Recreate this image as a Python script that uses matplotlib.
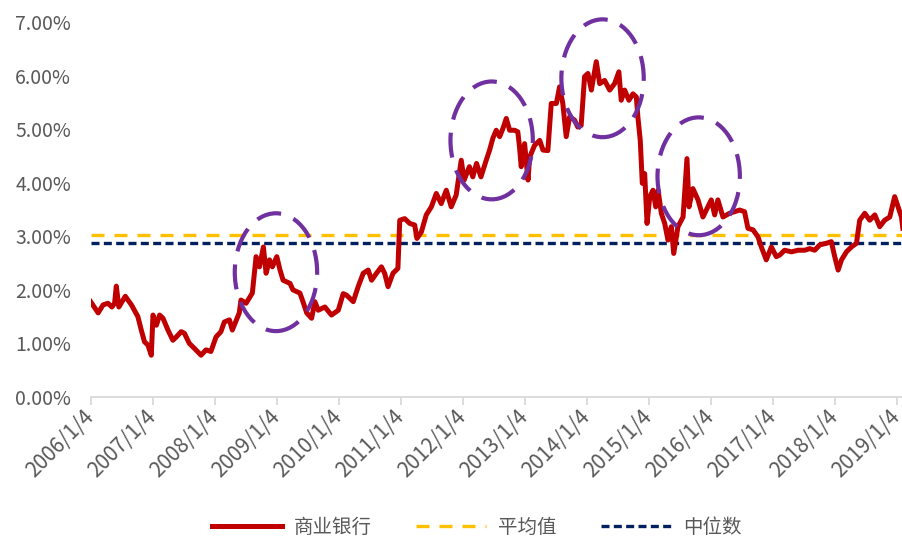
import matplotlib
matplotlib.use("Agg")
import matplotlib.pyplot as plt
import matplotlib.dates as mdates
from matplotlib.patches import Ellipse
from matplotlib.ticker import FuncFormatter
from matplotlib.lines import Line2D
import pandas as pd

plt.rcParams['font.family'] = ['Noto Sans CJK SC', 'DejaVu Sans']

# 商业银行 股息率 (%)
dates = [
    "2006-01-04", "2006-02-17", "2006-03-18", "2006-04-16", "2006-05-09", "2006-05-25",
    "2006-06-04", "2006-06-19", "2006-07-27", "2006-09-01", "2006-10-09", "2006-10-29",
    "2006-11-17", "2006-12-07", "2006-12-27", "2007-01-06", "2007-01-26", "2007-02-14",
    "2007-03-06", "2007-04-04", "2007-05-03", "2007-05-23", "2007-06-21", "2007-07-10",
    "2007-08-08", "2007-09-06", "2007-10-16", "2007-11-14", "2007-12-13", "2008-01-12",
    "2008-02-10", "2008-03-01", "2008-03-31", "2008-04-17", "2008-05-28", "2008-06-07",
    "2008-07-07", "2008-08-13", "2008-09-04", "2008-09-24", "2008-10-17", "2008-11-02",
    "2008-11-22", "2008-12-09", "2009-01-04", "2009-01-23", "2009-02-10", "2009-03-23",
    "2009-04-09", "2009-05-20", "2009-06-07", "2009-06-29", "2009-07-28", "2009-08-16",
    "2009-09-05", "2009-10-14", "2009-11-22", "2010-01-01", "2010-01-30", "2010-02-19",
    "2010-03-30", "2010-04-28", "2010-05-28", "2010-06-26", "2010-07-16", "2010-08-14",
    "2010-09-12", "2010-10-01", "2010-10-21", "2010-11-19", "2010-12-18", "2010-12-29",
    "2011-01-27", "2011-02-26", "2011-03-27", "2011-04-09", "2011-05-05", "2011-06-03",
    "2011-07-03", "2011-08-01", "2011-08-30", "2011-09-29", "2011-10-28", "2011-11-26",
    "2011-12-26", "2012-01-12", "2012-02-12", "2012-03-03", "2012-03-25", "2012-04-20",
    "2012-05-21", "2012-06-10", "2012-06-29", "2012-07-19", "2012-08-08", "2012-08-27",
    "2012-09-16", "2012-10-06", "2012-11-04", "2012-11-23", "2012-12-03", "2012-12-13",
    "2013-01-02", "2013-01-22", "2013-02-01", "2013-03-02", "2013-04-01", "2013-04-20",
    "2013-05-19", "2013-06-08", "2013-07-08", "2013-07-27", "2013-08-15", "2013-09-04",
    "2013-09-24", "2013-10-23", "2013-11-11", "2013-12-01", "2013-12-21", "2014-01-10",
    "2014-01-30", "2014-02-28", "2014-03-20", "2014-04-18", "2014-05-18", "2014-06-16",
    "2014-07-11", "2014-07-25", "2014-08-14", "2014-09-08", "2014-10-02", "2014-10-22",
    "2014-10-31", "2014-11-14", "2014-11-26", "2014-12-10", "2014-12-24", "2015-01-09",
    "2015-01-28", "2015-02-13", "2015-02-27", "2015-03-18", "2015-04-07", "2015-04-26",
    "2015-05-16", "2015-05-30", "2015-06-24", "2015-07-24", "2015-08-16", "2015-08-28",
    "2015-09-20", "2015-10-20", "2015-11-18", "2015-12-17", "2016-01-06", "2016-01-26",
    "2016-02-14", "2016-03-15", "2016-04-23", "2016-05-23", "2016-06-21", "2016-07-20",
    "2016-08-09", "2016-09-08", "2016-10-07", "2016-10-27", "2016-11-25", "2016-12-25",
    "2017-01-23", "2017-02-12", "2017-03-13", "2017-04-22", "2017-05-31", "2017-07-09",
    "2017-08-08", "2017-09-06", "2017-10-06", "2017-11-14", "2017-12-13", "2018-01-02",
    "2018-01-22", "2018-02-11", "2018-03-12", "2018-04-10", "2018-05-10", "2018-05-29",
    "2018-06-28", "2018-07-27", "2018-08-26", "2018-09-24", "2018-10-23", "2018-11-22",
    "2018-12-21", "2019-01-10", "2019-01-30", "2019-02-07",
]
bank_yield = [
    1.78, 1.57, 1.72, 1.75, 1.68, 1.75,
    2.07, 1.68, 1.88, 1.72, 1.50, 1.25,
    1.03, 0.97, 0.78, 1.53, 1.34, 1.53,
    1.47, 1.25, 1.06, 1.12, 1.22, 1.19,
    1.00, 0.91, 0.78, 0.88, 0.85, 1.12,
    1.22, 1.40, 1.44, 1.25, 1.57, 1.81,
    1.75, 1.94, 2.62, 2.43, 2.80, 2.31,
    2.56, 2.43, 2.62, 2.37, 2.18, 2.12,
    2.00, 1.94, 1.78, 1.57, 1.47, 1.78,
    1.62, 1.68, 1.53, 1.62, 1.93, 1.90,
    1.78, 2.06, 2.31, 2.37, 2.18, 2.31,
    2.43, 2.31, 2.06, 2.31, 2.40, 3.30,
    3.33, 3.24, 3.21, 2.96, 3.08, 3.40,
    3.55, 3.80, 3.61, 3.86, 3.55, 3.77,
    4.42, 4.05, 4.30, 4.11, 4.36, 4.11,
    4.42, 4.61, 4.83, 4.98, 4.86, 5.01,
    5.20, 4.98, 4.98, 4.95, 4.67, 4.30,
    4.73, 4.05, 4.48, 4.70, 4.79, 4.61,
    4.60, 5.48, 5.48, 5.79, 5.48, 4.86,
    5.23, 5.17, 5.04, 5.07, 5.98, 6.04,
    5.73, 6.26, 5.85, 5.91, 5.73, 5.85,
    6.07, 5.54, 5.73, 5.54, 5.66, 5.60,
    5.23, 4.79, 3.99, 4.17, 3.24, 3.74,
    3.86, 3.55, 3.86, 3.43, 3.24, 2.93,
    3.18, 2.68, 3.18, 3.36, 4.45, 3.55,
    3.89, 3.68, 3.36, 3.55, 3.68, 3.40,
    3.68, 3.36, 3.43, 3.46, 3.49, 3.46,
    3.15, 3.12, 2.99, 2.80, 2.56, 2.80,
    2.62, 2.65, 2.74, 2.71, 2.74, 2.74,
    2.77, 2.74, 2.84, 2.87, 2.90, 2.62,
    2.37, 2.56, 2.71, 2.80, 2.87, 3.30,
    3.43, 3.30, 3.40, 3.18, 3.30, 3.36,
    3.74, 3.55, 3.36, 3.15,
]
mean_value = 3.02
median_value = 2.88

tick_dates = [f"{y}-01-04" for y in range(2006, 2020)]
tick_labels = [f"{y}/1/4" for y in range(2006, 2020)]

# highlighted periods: (centre date, centre value)
highlights = [("2008-12-30", 2.33), ("2012-06-22", 4.79),
              ("2014-04-06", 5.95), ("2015-10-24", 4.12)]

RED = "#C00000"
GOLD = "#FFC000"
NAVY = "#002060"
PURPLE = "#7030A0"
GRAY = "#595959"

fig = plt.figure(figsize=(9.03, 5.40), dpi=100)
ax = fig.add_axes([0.1004, 0.2648, 0.8996, 0.6944])

x = pd.to_datetime(dates)
ax.plot(x, bank_yield, color=RED, lw=3.6, solid_joinstyle="round", zorder=3)
ax.axhline(mean_value, color=GOLD, lw=2.4, linestyle=(0, (3.9, 3.0)), zorder=2)
ax.axhline(median_value, color=NAVY, lw=2.4, linestyle=(0, (2.4, 1.3)), zorder=2)

for cdate, cval in highlights:
    cx = mdates.date2num(pd.Timestamp(cdate))
    ell = Ellipse((cx, cval), width=485, height=2.2, fill=False,
                  edgecolor=PURPLE, lw=3.0, linestyle=(0, (6, 3.2)), zorder=4,
                  clip_on=False)
    ax.add_patch(ell)

ax.set_ylim(0, 7)
ax.set_yticks(range(0, 8))
ax.yaxis.set_major_formatter(FuncFormatter(lambda v, p: f"{v:.2f}%"))
ax.set_xlim(pd.Timestamp("2006-01-04"), pd.Timestamp("2019-02-08"))
ax.set_xticks(pd.to_datetime(tick_dates))
ax.set_xticklabels(tick_labels, rotation=45, ha="right", va="center",
                   rotation_mode="anchor")

for side in ("top", "right", "left"):
    ax.spines[side].set_visible(False)
ax.spines["bottom"].set_color("#D9D9D9")
ax.spines["bottom"].set_linewidth(1.3)
ax.tick_params(axis="y", length=0, pad=14, labelsize=14, labelcolor=GRAY)
ax.tick_params(axis="x", length=6, width=1.3, color="#D9D9D9", direction="out",
               pad=6, labelsize=15, labelcolor=GRAY)

handles = [
    Line2D([], [], color=RED, lw=3.6),
    Line2D([], [], color=GOLD, lw=2.4, linestyle=(0, (3.9, 3.0))),
    Line2D([], [], color=NAVY, lw=2.4, linestyle=(0, (2.4, 1.3))),
]
fig.legend(handles, ["商业银行", "平均值", "中位数"], loc="center",
           bbox_to_anchor=(0.528, 0.024), ncol=3, frameon=False,
           fontsize=14, handlelength=3.6, handletextpad=0.6, columnspacing=2.3,
           labelcolor=GRAY)

fig.savefig("out.png", dpi=100)
